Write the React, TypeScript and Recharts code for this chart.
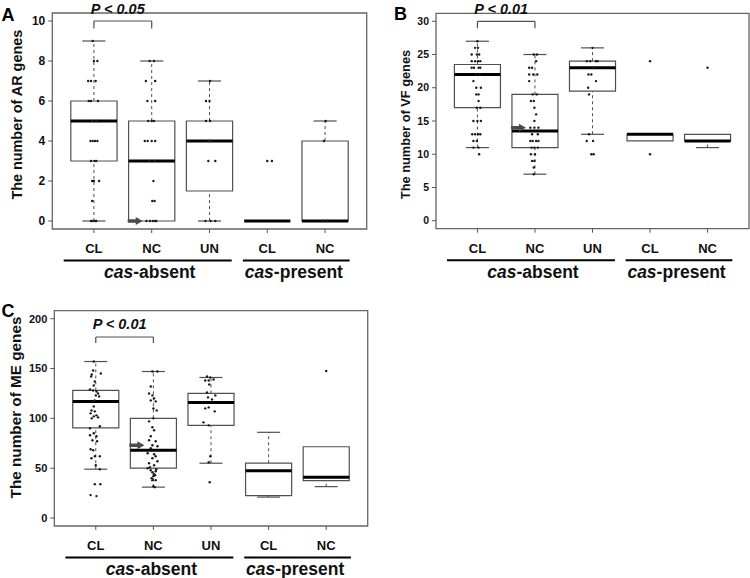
import React from "react";
import {
  ComposedChart,
  XAxis,
  YAxis,
  Scatter,
  ReferenceArea,
  ReferenceLine,
  ReferenceDot,
} from "recharts";

const FONT = "'Liberation Sans', Arial, Helvetica, sans-serif";
const X_DOMAIN: [number, number] = [0.28, 5.72];
const BOX = "#505050";

const groupPos = [1, 2, 3, 4, 5];
const groupLabels = ["CL", "NC", "UN", "CL", "NC"];
const sectionPrefix = "cas";
const sectionLabels = ["-absent", "-present"];

// A: resistance genes
const arTicks = [0, 2, 4, 6, 8, 10];
const arLow = [0, 0, 0, 0, 0];
const arQ1 = [3, 0, 1.5, 0, 0];
const arMedian = [5, 3, 4, 0, 0];
const arQ3 = [6, 5, 5, 0, 4];
const arHigh = [9, 8, 7, 0, 5];
// [group, jitter, value]
const arPoints: [number, number, number][] = [
  [1, -0.02, 9], [1, 0, 8], [1, 0.06, 8], [1, -0.1, 7], [1, -0.05, 7], [1, 0.03, 7],
  [1, -0.09, 6], [1, -0.05, 6], [1, 0.07, 6], [1, -0.03, 5], [1, 0.04, 5],
  [1, -0.06, 4], [1, -0.02, 4], [1, 0.02, 4], [1, 0.06, 4], [1, -0.05, 3], [1, 0.01, 3], [1, 0.04, 3],
  [1, -0.03, 2], [1, 0, 2], [1, 0.09, 2], [1, -0.03, 1], [1, -0.05, 0], [1, -0.02, 0], [1, 0.02, 0], [1, 0.04, 0],
  [2, -0.035, 8], [2, 0.04, 8], [2, -0.1, 7], [2, 0.06, 7], [2, -0.075, 6], [2, 0.06, 6],
  [2, -0.06, 5], [2, 0, 5], [2, 0.04, 5], [2, -0.12, 4], [2, -0.07, 4], [2, 0, 4], [2, 0.06, 4],
  [2, -0.04, 3], [2, 0.05, 3], [2, 0.03, 2], [2, 0.01, 1], [2, 0.05, 1],
  [2, -0.09, 0], [2, -0.03, 0], [2, 0.02, 0], [2, 0.06, 0], [2, 0.08, 0],
  [3, 0.01, 7], [3, -0.06, 6], [3, 0, 6], [3, -0.06, 5], [3, 0.01, 5], [3, -0.02, 4], [3, 0.03, 4],
  [3, -0.02, 3], [3, 0.1, 3], [3, -0.07, 0], [3, 0.02, 0], [3, 0.1, 0],
  [4, 0, 3], [4, 0.08, 3],
  [5, -0.02, 4], [5, 0.01, 5], [5, -0.03, 0], [5, 0.04, 0],
];

// B: virulence genes
const vfTicks = [0, 5, 10, 15, 20, 25, 30];
const vfLow = [11, 7, 13, 12, 11];
const vfQ1 = [17, 11, 19.5, 12, 12];
const vfMedian = [22, 13.5, 23, 13, 12];
const vfQ3 = [23.5, 19, 24, 13, 13];
const vfHigh = [27, 25, 26, 13, 13];
const vfPoints: [number, number, number][] = [
  [1, 0, 27], [1, -0.04, 26], [1, 0.01, 26], [1, -0.1, 25], [1, -0.01, 25], [1, 0.03, 25],
  [1, -0.1, 24], [1, -0.04, 24], [1, 0.01, 24], [1, 0.05, 24],
  [1, -0.1, 23], [1, -0.06, 23], [1, 0.02, 23], [1, 0.05, 23], [1, -0.03, 22], [1, 0.04, 22],
  [1, -0.07, 21], [1, -0.02, 20], [1, 0.06, 20], [1, -0.02, 19], [1, 0.02, 19], [1, 0.02, 18],
  [1, -0.01, 17], [1, 0.05, 17], [1, -0.07, 15], [1, 0, 15], [1, 0.06, 15],
  [1, -0.09, 13], [1, -0.04, 13], [1, 0.01, 13], [1, 0.05, 13], [1, -0.07, 12], [1, -0.01, 12],
  [1, -0.07, 11], [1, 0.02, 11], [1, 0.03, 10],
  [2, -0.02, 25], [2, 0.035, 25], [2, 0.02, 24], [2, -0.1, 23], [2, -0.05, 23],
  [2, -0.1, 22], [2, -0.03, 22], [2, 0.04, 22], [2, -0.1, 21], [2, -0.04, 19], [2, 0.03, 19],
  [2, -0.07, 18], [2, -0.02, 18], [2, -0.01, 17], [2, 0.02, 16], [2, -0.01, 15],
  [2, -0.08, 14], [2, -0.01, 14], [2, 0.06, 14], [2, -0.05, 13], [2, 0.05, 13],
  [2, -0.08, 12], [2, -0.04, 12], [2, 0.02, 12], [2, 0.06, 12], [2, -0.06, 11], [2, -0.01, 11], [2, 0.05, 11],
  [2, -0.07, 10], [2, 0, 10], [2, -0.05, 9], [2, -0.01, 9], [2, -0.02, 8], [2, -0.02, 7],
  [3, 0, 26], [3, -0.1, 24], [3, -0.04, 24], [3, 0.06, 24], [3, 0.09, 24], [3, 0.02, 23],
  [3, -0.07, 22], [3, -0.02, 22], [3, 0.06, 21], [3, -0.075, 20], [3, -0.06, 19],
  [3, -0.06, 13], [3, -0.1, 12], [3, 0.01, 12], [3, -0.02, 10], [3, 0.02, 10],
  [4, 0, 24], [4, 0, 10],
  [5, 0, 23],
];

// C: mobile elements
const meTicks = [0, 50, 100, 150, 200];
const meLow = [49, 31, 55, 21, 31.5];
const meQ1 = [90.5, 50, 93, 22.5, 37.5];
const meMedian = [117, 68, 116, 47.5, 41];
const meQ3 = [128, 100, 125, 55, 71.5];
const meHigh = [157, 147, 141, 86, 71.5];
const mePoints: [number, number, number][] = [
  [1, -0.035, 157], [1, -0.046, 148], [1, -0.07, 144], [1, 0.087, 145], [1, -0.08, 142],
  [1, -0.017, 137], [1, -0.035, 133], [1, -0.1, 129], [1, -0.046, 128], [1, 0.012, 127],
  [1, 0.04, 125], [1, 0, 123], [1, 0.058, 122], [1, -0.02, 118], [1, -0.035, 112],
  [1, -0.075, 108], [1, -0.017, 107], [1, -0.09, 105], [1, 0.012, 103], [1, -0.035, 102],
  [1, 0.04, 101], [1, -0.07, 100], [1, -0.1, 90], [1, 0.07, 92], [1, -0.035, 85],
  [1, -0.1, 83], [1, 0.012, 82], [1, -0.058, 78], [1, 0.023, 77], [1, -0.09, 69],
  [1, -0.046, 68], [1, -0.017, 62], [1, 0.07, 62], [1, -0.075, 60], [1, 0, 53],
  [1, 0.07, 49], [1, -0.017, 34], [1, 0.08, 34], [1, -0.09, 23], [1, 0.012, 22],
  [2, -0.017, 147], [2, 0.07, 147], [2, -0.046, 132], [2, -0.075, 125], [2, -0.017, 123],
  [2, 0.012, 120], [2, -0.046, 118], [2, 0.04, 117], [2, 0, 110], [2, 0.058, 108],
  [2, 0, 100], [2, -0.075, 97], [2, -0.017, 91], [2, 0.012, 88], [2, -0.046, 82],
  [2, -0.075, 78], [2, 0.04, 77], [2, -0.017, 73], [2, 0.07, 72], [2, -0.046, 70],
  [2, -0.1, 65], [2, 0.012, 64], [2, 0.04, 62], [2, -0.017, 60], [2, 0.07, 57],
  [2, -0.075, 55], [2, 0.012, 53], [2, -0.06, 51], [2, -0.1, 50], [2, 0.05, 49],
  [2, -0.046, 48], [2, 0.04, 47], [2, -0.017, 46], [2, 0.012, 44], [2, 0.03, 43],
  [2, 0, 42], [2, -0.03, 40], [2, -0.017, 38], [2, 0.04, 38], [2, 0, 32], [2, 0.023, 31],
  [3, -0.07, 142], [3, -0.012, 141], [3, -0.1, 138], [3, -0.04, 138], [3, 0.046, 139],
  [3, -0.03, 134], [3, -0.07, 126], [3, 0.075, 123], [3, -0.052, 121], [3, 0.017, 119],
  [3, -0.1, 110], [3, -0.04, 111], [3, 0.064, 107], [3, -0.13, 96], [3, -0.04, 93],
  [3, -0.012, 62], [3, -0.04, 56], [3, -0.023, 36],
  [5, 0, 147.5],
];

type PanelCfg = {
  left: number; top: number; width: number; height: number;
  marginTop: number; marginRight: number; yWidth: number; xHeight: number;
  yDomain: [number, number]; yTicks: number[]; tickSize: number;
  low: number[]; q1: number[]; median: number[]; q3: number[]; high: number[];
  points: [number, number, number][];
  title: string; titleSize: number; titleX: number; titleY: number;
  letter: string; letterX: number; letterY: number;
  pText: string; pLift: number; bracket: [number, number]; arrowY: number;
};

const panels: PanelCfg[] = [
  {
    left: 0, top: 0, width: 375, height: 290, marginTop: 13, marginRight: 8.3, yWidth: 52.3, xHeight: 61,
    yDomain: [-0.4, 10.4], yTicks: arTicks, tickSize: 12,
    low: arLow, q1: arQ1, median: arMedian, q3: arQ3, high: arHigh, points: arPoints,
    title: "The number of AR genes", titleSize: 14.4, titleX: 21.9, titleY: 114.7,
    letter: "A", letterX: 1.5, letterY: 20.7, pText: "P < 0.05", pLift: 7.5, bracket: [10, 9.63], arrowY: 0,
  },
  {
    left: 375, top: 0, width: 375, height: 290, marginTop: 13.3, marginRight: 1, yWidth: 61, xHeight: 61.3,
    yDomain: [-1.2, 31.2], yTicks: vfTicks, tickSize: 10.5,
    low: vfLow, q1: vfQ1, median: vfMedian, q3: vfQ3, high: vfHigh, points: vfPoints,
    title: "The number of VF genes", titleSize: 12.8, titleX: 34.6, titleY: 124.5,
    letter: "B", letterX: 19, letterY: 20, pText: "P < 0.01", pLift: 7, bracket: [30, 28.95], arrowY: 14,
  },
  {
    left: 0, top: 290, width: 375, height: 288, marginTop: 20.7, marginRight: 7.3, yWidth: 54.3, xHeight: 52,
    yDomain: [-8, 208], yTicks: meTicks, tickSize: 11,
    low: meLow, q1: meQ1, median: meMedian, q3: meQ3, high: meHigh, points: mePoints,
    title: "The number of ME genes", titleSize: 15.3, titleX: 21.3, titleY: 117.5,
    letter: "C", letterX: 1.5, letterY: 26.7, pText: "P < 0.01", pLift: 8.5, bracket: [181.6, 175.6], arrowY: 73,
  },
];

const catTick = (p: any) => {
  const { x, y, payload } = p;
  const i = groupPos.indexOf(payload.value);
  return (
    <g>
      <text x={x} y={y + 20} textAnchor="middle" fontSize={13} fontWeight={700} fill="#111">
        {groupLabels[i]}
      </text>
      {i === 1 && (
        <g>
          <line x1={x - 88} x2={x + 80} y1={y + 27.5} y2={y + 27.5} stroke="#000" strokeWidth={2} />
          <text x={x - 2} y={y + 45} textAnchor="middle" fontSize={17.5} fontWeight={700} fill="#111">
            <tspan fontStyle="italic">{sectionPrefix}</tspan>{sectionLabels[0]}
          </text>
        </g>
      )}
      {i === 3 && (
        <g>
          <line x1={x - 24.4} x2={x + 82.3} y1={y + 27.5} y2={y + 27.5} stroke="#000" strokeWidth={2} />
          <text x={x + 26.5} y={y + 45} textAnchor="middle" fontSize={17.5} fontWeight={700} fill="#111">
            <tspan fontStyle="italic">{sectionPrefix}</tspan>{sectionLabels[1]}
          </text>
        </g>
      )}
    </g>
  );
};

function boxElements(c: PanelCfg) {
  const out: React.ReactElement[] = [];
  groupPos.forEach((g, i) => {
    const k = "b" + i;
    if (c.high[i] > c.q3[i]) {
      out.push(<ReferenceLine key={k + "wu"} segment={[{ x: g, y: c.q3[i] }, { x: g, y: c.high[i] }]} stroke={BOX} strokeDasharray="3 3" />);
      out.push(<ReferenceLine key={k + "cu"} segment={[{ x: g - 0.2, y: c.high[i] }, { x: g + 0.2, y: c.high[i] }]} stroke={BOX} strokeWidth={1.2} />);
    }
    if (c.low[i] < c.q1[i]) {
      out.push(<ReferenceLine key={k + "wl"} segment={[{ x: g, y: c.low[i] }, { x: g, y: c.q1[i] }]} stroke={BOX} strokeDasharray="3 3" />);
      out.push(<ReferenceLine key={k + "cl"} segment={[{ x: g - 0.2, y: c.low[i] }, { x: g + 0.2, y: c.low[i] }]} stroke={BOX} strokeWidth={1.2} />);
    }
    out.push(<ReferenceArea key={k + "box"} x1={g - 0.4} x2={g + 0.4} y1={c.q1[i]} y2={c.q3[i]} fill="none" stroke={BOX} strokeWidth={1.2} />);
    out.push(<ReferenceLine key={k + "med"} segment={[{ x: g - 0.4, y: c.median[i] }, { x: g + 0.4, y: c.median[i] }]} stroke="#000" strokeWidth={3} />);
  });
  return out;
}

const dot = (p: any) => <circle cx={p.cx} cy={p.cy} r={1.2} fill="#1a1a1a" />;

const arrow = (p: any) => {
  const { cx, cy } = p;
  const tip = cx - 9;
  return (
    <path
      d={`M${tip - 15},${cy - 1.7} L${tip - 7},${cy - 1.7} L${tip - 7},${cy - 4} L${tip},${cy} L${tip - 7},${cy + 4} L${tip - 7},${cy + 1.7} L${tip - 15},${cy + 1.7} Z`}
      fill="#4a4a4a"
    />
  );
};

function Panel({ c }: { c: PanelCfg }) {
  const pts = c.points.map(([g, d, v]) => ({ x: g + d, y: v }));
  const title = () => (
    <g>
      <text
        x={c.titleX}
        y={c.titleY}
        transform={`rotate(-90 ${c.titleX} ${c.titleY})`}
        textAnchor="middle"
        fontSize={c.titleSize}
        fontWeight={700}
        fill="#111"
      >
        {c.title}
      </text>
      <text x={c.letterX} y={c.letterY} fontSize={18} fontWeight={700} fill="#000">
        {c.letter}
      </text>
    </g>
  );
  const pLabel = (p: any) => (
    <text x={p.cx - 5} y={p.cy - c.pLift} textAnchor="middle" fontSize={14.5} fontWeight={700} fontStyle="italic" fill="#111">
      {c.pText}
    </text>
  );
  return (
    <div style={{ position: "absolute", left: c.left, top: c.top }}>
      <ComposedChart
        width={c.width}
        height={c.height}
        margin={{ top: c.marginTop, right: c.marginRight, bottom: 0, left: 0 }}
      >
        <XAxis
          type="number"
          dataKey="x"
          domain={X_DOMAIN}
          ticks={groupPos}
          interval={0}
          allowDataOverflow
          axisLine={false}
          tickLine={{ stroke: "#555" }}
          tickSize={4}
          tickMargin={0}
          height={c.xHeight}
          tick={catTick}
        />
        <YAxis
          type="number"
          dataKey="y"
          domain={c.yDomain}
          ticks={c.yTicks}
          interval={0}
          allowDataOverflow
          axisLine={false}
          tickLine={{ stroke: "#555" }}
          tickSize={4}
          tickMargin={3}
          width={c.yWidth}
          tick={{ fontSize: c.tickSize, fontWeight: 700, fill: "#111" }}
          label={title}
        />
        <ReferenceArea
          x1={X_DOMAIN[0]}
          x2={X_DOMAIN[1]}
          y1={c.yDomain[0]}
          y2={c.yDomain[1]}
          fill="none"
          stroke="#666"
          strokeWidth={1.3}
        />
        {boxElements(c)}
        <ReferenceLine segment={[{ x: 1, y: c.bracket[0] }, { x: 2, y: c.bracket[0] }]} stroke={BOX} strokeWidth={1.2} />
        <ReferenceLine segment={[{ x: 1, y: c.bracket[0] }, { x: 1, y: c.bracket[1] }]} stroke={BOX} strokeWidth={1.2} />
        <ReferenceLine segment={[{ x: 2, y: c.bracket[0] }, { x: 2, y: c.bracket[1] }]} stroke={BOX} strokeWidth={1.2} />
        <ReferenceDot x={1.5} y={c.bracket[0]} r={0} shape={pLabel} />
        <Scatter data={pts} shape={dot} isAnimationActive={false} />
        <ReferenceDot x={2} y={c.arrowY} shape={arrow} />
      </ComposedChart>
    </div>
  );
}

export default function App() {
  return (
    <div
      style={{
        position: "absolute",
        left: 0,
        top: 0,
        width: 750,
        height: 578,
        background: "#fff",
        fontFamily: FONT,
        overflow: "hidden",
      }}
    >
      {panels.map((c) => (
        <Panel key={c.letter} c={c} />
      ))}
    </div>
  );
}
